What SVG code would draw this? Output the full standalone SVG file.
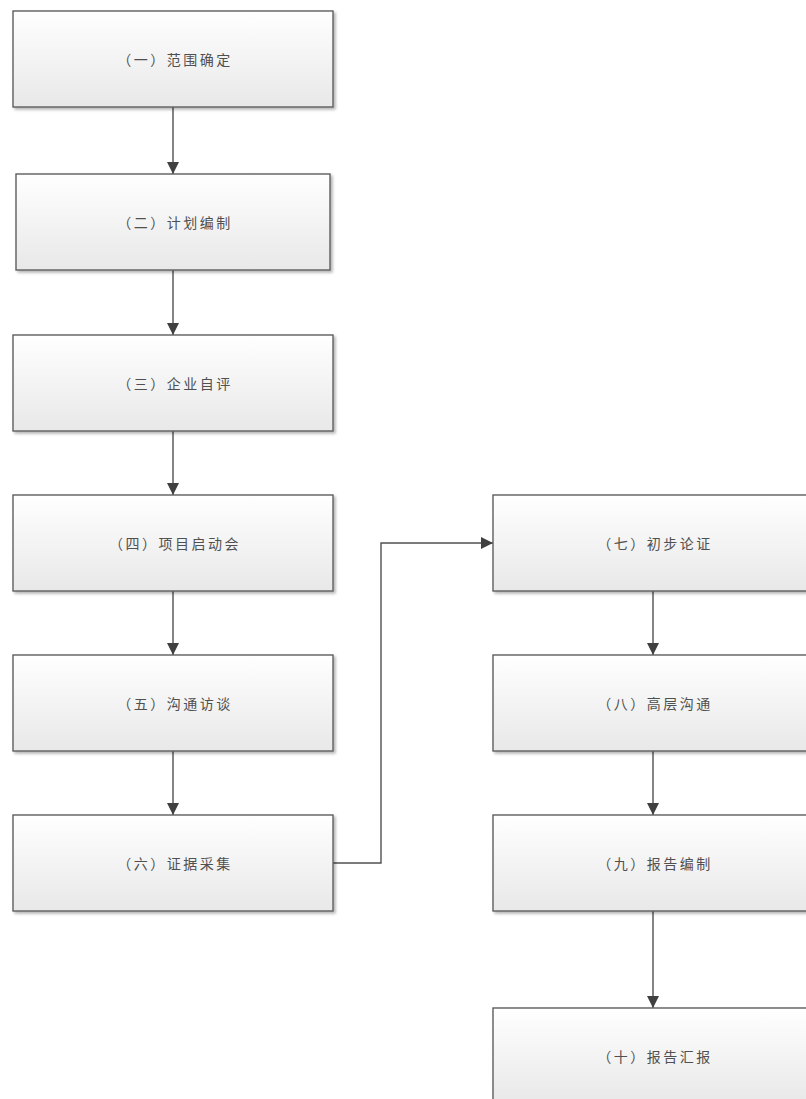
<svg xmlns="http://www.w3.org/2000/svg" width="806" height="1099" viewBox="0 0 806 1099">
<defs>
<linearGradient id="g" x1="0" y1="0" x2="0" y2="1">
<stop offset="0" stop-color="#ffffff"/>
<stop offset="1" stop-color="#e8e8e8"/>
</linearGradient>
<filter id="sh" x="-5%" y="-5%" width="115%" height="115%">
<feGaussianBlur in="SourceAlpha" stdDeviation="1.5"/>
<feOffset dx="2" dy="2"/>
<feComponentTransfer><feFuncA type="linear" slope="0.3"/></feComponentTransfer>
<feMerge><feMergeNode/><feMergeNode in="SourceGraphic"/></feMerge>
</filter>
<marker id="ah" markerWidth="12" markerHeight="12" refX="12" refY="6" orient="auto" markerUnits="userSpaceOnUse">
<path d="M0,0 L12,6 L0,12 Z" fill="#404040"/>
</marker>
<style>
.box{fill:url(#g);stroke:#5e5e5e;stroke-width:1.4;filter:url(#sh)}
.lbl{font-family:"Noto Sans CJK SC","Noto Sans CJK JP",sans-serif;font-size:14px;fill:#505050;text-anchor:middle;dominant-baseline:central;letter-spacing:2.5px}
.c{fill:none;stroke:#505050;stroke-width:1.4;marker-end:url(#ah)}
</style>
</defs>
<rect width="806" height="1099" fill="#fff"/>
<g id="connectors">
<path class="c" d="M173,107 V174"/>
<path class="c" d="M173,270 V335"/>
<path class="c" d="M173,431 V495"/>
<path class="c" d="M173,591 V655"/>
<path class="c" d="M173,751 V815"/>
<path class="c" d="M333,863 H381 V543 H493"/>
<path class="c" d="M653,591 V655"/>
<path class="c" d="M653,751 V815"/>
<path class="c" d="M653,911 V1008"/>
</g>
<g id="n1"><rect class="box" x="13" y="11" width="320" height="96"/><text class="lbl" x="175" y="59">（一）范围确定</text></g>
<g id="n2"><rect class="box" x="16" y="174" width="314" height="96"/><text class="lbl" x="175" y="222">（二）计划编制</text></g>
<g id="n3"><rect class="box" x="13" y="335" width="320" height="96"/><text class="lbl" x="175" y="383">（三）企业自评</text></g>
<g id="n4"><rect class="box" x="13" y="495" width="320" height="96"/><text class="lbl" x="175" y="543">（四）项目启动会</text></g>
<g id="n5"><rect class="box" x="13" y="655" width="320" height="96"/><text class="lbl" x="175" y="703">（五）沟通访谈</text></g>
<g id="n6"><rect class="box" x="13" y="815" width="320" height="96"/><text class="lbl" x="175" y="863">（六）证据采集</text></g>
<g id="n7"><rect class="box" x="493" y="495" width="320" height="96"/><text class="lbl" x="655" y="543">（七）初步论证</text></g>
<g id="n8"><rect class="box" x="493" y="655" width="320" height="96"/><text class="lbl" x="655" y="703">（八）高层沟通</text></g>
<g id="n9"><rect class="box" x="493" y="815" width="320" height="96"/><text class="lbl" x="655" y="863">（九）报告编制</text></g>
<g id="n10"><rect class="box" x="493" y="1008" width="320" height="96"/><text class="lbl" x="655" y="1056">（十）报告汇报</text></g>
</svg>
